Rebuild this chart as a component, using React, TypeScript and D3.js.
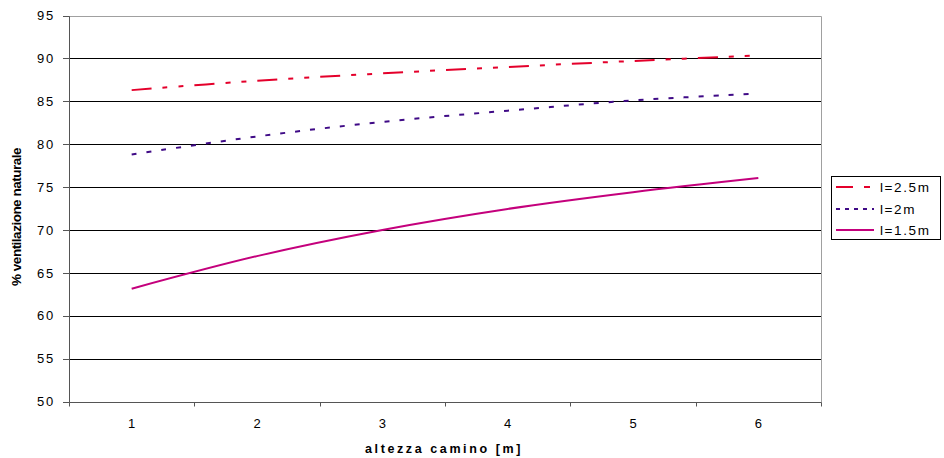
import React from "react";
import * as d3 from "d3";

const categories = ["1", "2", "3", "4", "5", "6"];
const yTicks = [50, 55, 60, 65, 70, 75, 80, 85, 90, 95];
const seriesNames = ["l=2.5m", "l=2m", "l=1.5m"];
const valuesL25 = [86.3, 87.4, 88.25, 89.0, 89.7, 90.35];
const valuesL2 = [78.8, 80.9, 82.6, 83.9, 85.1, 85.9];
const valuesL15 = [63.15, 66.95, 70.0, 72.45, 74.4, 76.05];

const W = 944;
const H = 458;
const FONT = "'Liberation Sans', Arial, sans-serif";

export default function App() {
  const x = d3.scaleBand<string>().domain(categories).range([69, 821]);
  const y = d3.scaleLinear().domain([50, 95]).range([401.5, 15.5]);
  const cx = (c: string) => (x(c) as number) + x.bandwidth() / 2;
  const crisp = (v: number) => Math.round(v) + 0.5;

  const line = d3
    .line<number>()
    .x((_, i) => cx(categories[i]))
    .y((v) => y(v))
    .curve(d3.curveCardinal.tension(0));

  const series = [
    { name: seriesNames[0], values: valuesL25, color: "#E4002B", dash: "20,11,5,11,5,11", legendDash: "17,11,6,100", width: 2 },
    { name: seriesNames[1], values: valuesL2, color: "#3F0A86", dash: "5,10", legendDash: "4,5", width: 2 },
    { name: seriesNames[2], values: valuesL15, color: "#C4007C", dash: undefined, legendDash: undefined, width: 2 },
  ];

  const left = 69;
  const right = 821;
  const top = y(95);
  const bottom = y(50);
  const boundaries = d3.range(categories.length + 1).map((i) => left + i * x.step());

  const legendX = 831.5;
  const legendY = 176.5;
  const legendRows = [187, 209, 230];

  return (
    <svg
      width={W}
      height={H}
      style={{ position: "absolute", left: 0, top: 0, background: "#fff" }}
      fontFamily={FONT}
    >
      <rect x={0} y={0} width={W} height={H} fill="#fff" />
      {yTicks.slice(1, -1).map((t) => (
        <line key={t} x1={left} x2={right} y1={crisp(y(t))} y2={crisp(y(t))} stroke="#000" strokeWidth={1} />
      ))}
      <line x1={left} x2={crisp(right)} y1={crisp(top)} y2={crisp(top)} stroke="#A0A0A0" strokeWidth={1} />
      <line x1={crisp(right)} x2={crisp(right)} y1={crisp(top)} y2={crisp(bottom)} stroke="#A0A0A0" strokeWidth={1} />
      <line x1={crisp(left)} x2={crisp(left)} y1={crisp(top)} y2={crisp(bottom)} stroke="#555" strokeWidth={1} />
      <line x1={crisp(left)} x2={crisp(right)} y1={crisp(bottom)} y2={crisp(bottom)} stroke="#555" strokeWidth={1} />
      {yTicks.map((t) => (
        <g key={t}>
          <line x1={63} x2={crisp(left)} y1={crisp(y(t))} y2={crisp(y(t))} stroke="#555" strokeWidth={1} />
          <text
            x={55}
            y={y(t)}
            dy="0.36em"
            textAnchor="end"
            fontSize={13}
            letterSpacing={1.8}
            fill="#000"
          >
            {t}
          </text>
        </g>
      ))}
      {boundaries.map((b, i) => (
        <line key={i} x1={crisp(b)} x2={crisp(b)} y1={crisp(bottom)} y2={crisp(bottom) + 4} stroke="#555" strokeWidth={1} />
      ))}
      {categories.map((c) => (
        <text key={c} x={cx(c)} y={y(50) + 26} textAnchor="middle" fontSize={13} fill="#000">
          {c}
        </text>
      ))}
      {series.map((s) => (
        <path
          key={s.name}
          d={line(s.values) as string}
          fill="none"
          stroke={s.color}
          strokeWidth={s.width}
          strokeDasharray={s.dash}
        />
      ))}
      <text x={444} y={453} textAnchor="middle" fontSize={12.5} fontWeight="bold" letterSpacing={2.6} fill="#000">
        altezza camino [m]
      </text>
      <text
        transform="translate(21,217) rotate(-90)"
        textAnchor="middle"
        fontSize={13.5}
        fontWeight="bold"
        letterSpacing={-0.5}
        fill="#000"
      >
        % ventilazione naturale
      </text>
      <rect x={legendX} y={legendY} width={109} height={63} fill="#fff" stroke="#000" strokeWidth={1} />
      {series.map((s, i) => (
        <g key={s.name}>
          <line
            x1={836}
            x2={874}
            y1={legendRows[i]}
            y2={legendRows[i]}
            stroke={s.color}
            strokeWidth={2}
            strokeDasharray={s.legendDash}
          />
          <text x={880} y={legendRows[i]} dy="0.36em" fontSize={13.5} letterSpacing={1.6} fill="#000">
            {s.name}
          </text>
        </g>
      ))}
    </svg>
  );
}
